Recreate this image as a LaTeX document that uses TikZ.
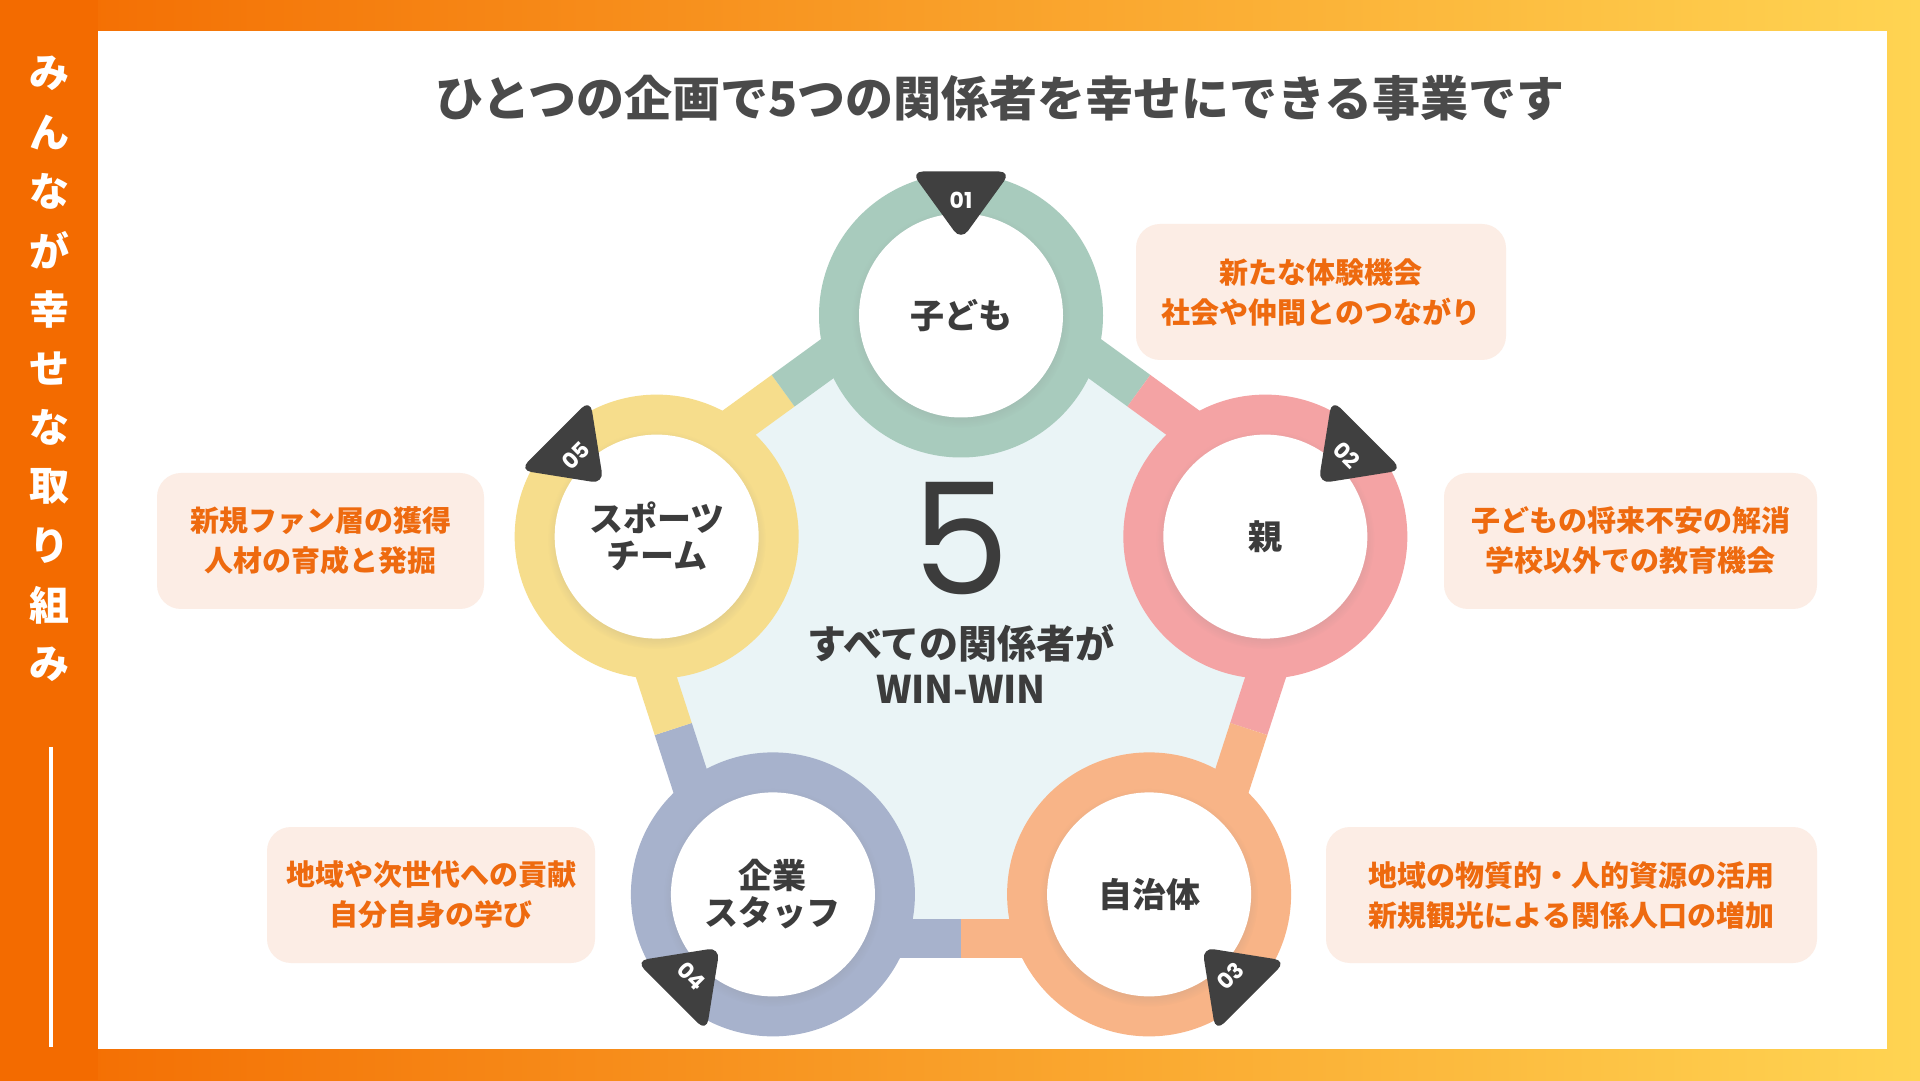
\documentclass[tikz,border=0pt]{standalone}
\usepackage{fontspec}
\newfontfamily\jp{Noto Sans CJK JP}
\newfontfamily\pop{Poppins}
\usetikzlibrary{calc,shadows,fadings}
\definecolor{forange}{HTML}{F36B00}
\definecolor{fyellow}{HTML}{FFD452}
\definecolor{cgreen}{HTML}{A8CBBD}
\definecolor{cpink}{HTML}{F4A3A4}
\definecolor{corange}{HTML}{F8B487}
\definecolor{cblue}{HTML}{A7B2CC}
\definecolor{cyellow}{HTML}{F6DD8C}
\definecolor{pentfill}{HTML}{EAF4F6}
\definecolor{boxfill}{HTML}{FCEDE5}
\definecolor{boxtext}{HTML}{EE6A0F}
\definecolor{badgecol}{HTML}{404040}
\definecolor{darktext}{HTML}{3C3C3C}
\definecolor{titletext}{HTML}{4A4A4A}
\begin{document}
\begin{tikzpicture}[x=1pt,y=1pt,
  vchar/.style={text=white, font=\jp\bfseries\fontsize{40}{40}\selectfont, inner sep=0},
  band/.style={line width=39pt},
  ringnode/.style={circle, minimum size=284pt, inner sep=0, fill=#1},
  disc/.style={circle, minimum size=204pt, inner sep=0, fill=white, text=darktext, align=center,
    font=\jp\bfseries\fontsize{34}{37}\selectfont,
    circular drop shadow={shadow xshift=0pt, shadow yshift=-3pt, shadow scale=1.07, opacity=0.22}},
  badgetxt/.style={text=white, font=\pop\bfseries\fontsize{22}{22}\selectfont, inner sep=0},
  infobox/.style={rounded corners=24pt, fill=boxfill, text=boxtext, align=center,
    font=\jp\bfseries\fontsize{29}{40}\selectfont, inner sep=0, minimum height=136pt},
]
\useasboundingbox (0,0) rectangle (1920,1080);
% frame
\shade[left color=forange, right color=fyellow] (0,0) rectangle (1920,1080);
\fill[forange] (0,0) rectangle (98,1080);
\fill[white] (98,31) rectangle (1887,1049);
% vertical heading
\foreach \c [count=\i] in {み,ん,な,が,幸,せ,な,取,り,組,み}
  \node[vchar] (v\i) at (49,{1007-(\i-1)*59.1}) {\c};
\coordinate (lt) at (51,333);
\coordinate (lb) at (51,33);
\draw[white, line width=3.5pt] (lt) -- (lb);
% title
\node[font=\jp\bfseries\fontsize{48}{48}\selectfont, text=titletext] (title) at (1000,982)
  {ひとつの企画で5つの関係者を幸せにできる事業です};
% geometry
\coordinate (C) at (961,444.5);
\foreach \k/\a in {1/90,2/18,3/-54,4/-126,5/162}{
  \coordinate (V\k) at ([shift={(961,444.5)}]\a:374);
  \coordinate (P\k) at ([shift={(961,444.5)}]\a:320);
}
\coordinate (M12) at ($(V1)!0.5!(V2)$);
\coordinate (M23) at ($(V2)!0.5!(V3)$);
\coordinate (M34) at ($(V3)!0.5!(V4)$);
\coordinate (M45) at ($(V4)!0.5!(V5)$);
\coordinate (M51) at ($(V5)!0.5!(V1)$);
\fill[pentfill] (V1) -- (V2) -- (V3) -- (V4) -- (V5) -- cycle;
\draw[band, cgreen] (V1) -- (M12);
\draw[band, cpink] (M12) -- (V2);
\draw[band, cpink] (V2) -- (M23);
\draw[band, corange] (M23) -- (V3);
\draw[band, corange] (V3) -- (M34);
\draw[band, cblue] (M34) -- (V4);
\draw[band, cblue] (V4) -- (M45);
\draw[band, cyellow] (M45) -- (V5);
\draw[band, cyellow] (V5) -- (M51);
\draw[band, cgreen] (M51) -- (V1);
% rings
\node[ringnode=cgreen] (r1) at (P1) {};
\node[ringnode=cpink] (r2) at (P2) {};
\node[ringnode=corange] (r3) at (P3) {};
\node[ringnode=cblue] (r4) at (P4) {};
\node[ringnode=cyellow] (r5) at (P5) {};
% discs
\node[disc] (n1) at (P1) {子ども};
\node[disc] (n2) at (P2) {親};
\node[disc] (n3) at (P3) {自治体};
\node[disc] (n4) at (P4) {企業\\スタッフ};
\node[disc] (n5) at (P5) {スポーツ\\チーム};
% badges
\foreach \k/\a/\t/\r in {1/90/01/0,2/45/02/-45,3/-45/03/45,4/-135/04/-45,5/135/05/45}{
  \begin{scope}[shift={(P\k)}, rotate=\a-90]
    \fill[badgecol, rounded corners=12pt] (-50,144) -- (50,144) -- (0,75) -- cycle;
  \end{scope}
  \node[badgetxt, rotate=\r] (b\k) at ([shift={(P\k)}]\a:115) {\t};
}
% centre text
\node[font=\pop\fontsize{155}{155}\selectfont, text=darktext, inner sep=0] (five) at (961,541) {5};
\node[font=\jp\bfseries\fontsize{39}{39}\selectfont, text=darktext, inner sep=0] (all) at (961,437) {すべての関係者が};
\node[font=\jp\bfseries\fontsize{38}{38}\selectfont, text=darktext, inner sep=0] (win) at (961,391) {WIN-WIN};
% info boxes
\node[infobox, minimum width=370pt] (i1) at (1321,788) {新たな体験機会\\社会や仲間とのつながり};
\node[infobox, minimum width=373pt] (i2) at (1630.5,539) {子どもの将来不安の解消\\学校以外での教育機会};
\node[infobox, minimum width=491pt] (i3) at (1571.5,185) {地域の物質的・人的資源の活用\\新規観光による関係人口の増加};
\node[infobox, minimum width=327pt] (i4) at (320.5,539) {新規ファン層の獲得\\人材の育成と発掘};
\node[infobox, minimum width=328pt] (i5) at (431,185) {地域や次世代への貢献\\自分自身の学び};
\end{tikzpicture}
\end{document}
